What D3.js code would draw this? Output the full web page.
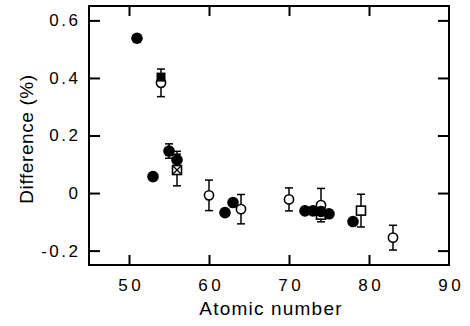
<!DOCTYPE html>
<html>
<head>
<meta charset="utf-8">
<script src="https://cdn.jsdelivr.net/npm/d3@7"></script>
<style>
  body { margin: 0; background: #fff; }
  text { font-family: "Liberation Sans", Arial, sans-serif; fill: #000; }
</style>
</head>
<body>
<div id="chart"></div>
<script>
var width = 470,
    height = 326,
    plotLeft = 89,
    plotRight = 449,
    plotTop = 6,
    plotBottom = 265;

// atomic number and difference (%) for each marker type
var filledZ = [51, 53, 55, 56, 62, 63, 72, 73, 74, 75, 78];
var filledDiff = [0.538, 0.057, 0.146, 0.115, -0.068, -0.033, -0.062, -0.062, -0.064, -0.072, -0.099];
var filledErr = [0, 0.01, 0.025, 0.03, 0, 0, 0, 0, 0.01, 0, 0];

var openCircleZ = [54, 60, 64, 70, 74, 83];
var openCircleDiff = [0.383, -0.008, -0.056, -0.022, -0.042, -0.155];
var openCircleErr = [0.048, 0.053, 0.051, 0.04, 0.058, 0.043];

var openSquareZ = [74, 79];
var openSquareDiff = [-0.075, -0.061];
var openSquareErr = [0.012, 0.057];

var filledSquareZ = [54];
var filledSquareDiff = [0.403];

var crossSquareZ = [56];
var crossSquareDiff = [0.08];
var crossSquareErr = [0.055];

var xTicks = [50, 60, 70, 80, 90];
var yTicks = [-0.2, 0, 0.2, 0.4, 0.6];
var yTickLabels = ["-0.2", "0", "0.2", "0.4", "0.6"];

var x = d3.scaleLinear().domain([45, 90]).range([plotLeft, plotRight]);
var y = d3.scaleLinear().domain([-0.25, 0.65]).range([plotBottom, plotTop]);

var svg = d3.select("#chart").append("svg")
  .attr("width", width)
  .attr("height", height);

function pts(zs, ds, es) {
  return zs.map(function(z, i) { return {z: z, d: ds[i], e: es ? es[i] : 0}; });
}

var filled = pts(filledZ, filledDiff, filledErr),
    openC = pts(openCircleZ, openCircleDiff, openCircleErr),
    openS = pts(openSquareZ, openSquareDiff, openSquareErr),
    filledS = pts(filledSquareZ, filledSquareDiff),
    crossS = pts(crossSquareZ, crossSquareDiff, crossSquareErr);

// axes, ticks pointing inward
var ls = 3.5;
svg.append("g")
  .attr("transform", "translate(0," + plotBottom + ")")
  .call(d3.axisBottom(x).tickValues(xTicks).tickSizeInner(-10).tickSizeOuter(0).tickPadding(14))
  .call(function(g) {
    g.select(".domain").remove();
    g.selectAll("line").attr("stroke-width", 2).filter(function(d) { return d === 90; }).remove();
    g.selectAll("text").attr("font-size", 17).attr("font-family", "Liberation Sans, Arial, sans-serif")
      .attr("letter-spacing", ls).attr("dx", ls / 2);
  });

svg.append("g")
  .attr("transform", "translate(0," + plotTop + ")")
  .call(d3.axisTop(x).tickValues([50, 60, 70, 80]).tickSizeInner(-10).tickSizeOuter(0).tickFormat(""))
  .call(function(g) {
    g.select(".domain").remove();
    g.selectAll("line").attr("stroke-width", 2);
  });

svg.append("g")
  .attr("transform", "translate(" + plotLeft + ",0)")
  .call(d3.axisLeft(y).tickValues(yTicks).tickSizeInner(-11).tickSizeOuter(0).tickPadding(11)
    .tickFormat(function(d, i) { return yTickLabels[i]; }))
  .call(function(g) {
    g.select(".domain").remove();
    g.selectAll("line").attr("stroke-width", 2);
    g.selectAll("text").attr("font-size", 17).attr("font-family", "Liberation Sans, Arial, sans-serif")
      .attr("letter-spacing", 2.5).attr("dx", 2.5);
  });

svg.append("g")
  .attr("transform", "translate(" + plotRight + ",0)")
  .call(d3.axisRight(y).tickValues(yTicks).tickSizeInner(-11).tickSizeOuter(0).tickFormat(""))
  .call(function(g) {
    g.select(".domain").remove();
    g.selectAll("line").attr("stroke-width", 2);
  });

// frame
svg.append("rect")
  .attr("x", plotLeft).attr("y", plotTop)
  .attr("width", plotRight - plotLeft).attr("height", plotBottom - plotTop)
  .attr("fill", "none").attr("stroke", "#000").attr("stroke-width", 2);

// axis titles
svg.append("text")
  .attr("x", (200 + 342) / 2)
  .attr("y", 315)
  .attr("text-anchor", "middle")
  .attr("font-size", 19)
  .attr("letter-spacing", 1.2)
  .text("Atomic number");

svg.append("text")
  .attr("transform", "translate(33,139) rotate(-90)")
  .attr("text-anchor", "middle")
  .attr("font-size", 19)
  .attr("letter-spacing", 0.6)
  .text("Difference (%)");

// error bars
var cap = 4;
var errs = svg.append("g").attr("stroke", "#000").attr("stroke-width", 1.5);
[].concat(filled, openC, openS, crossS).filter(function(p) { return p.e > 0; }).forEach(function(p) {
  var cx = x(p.z), y0 = y(p.d - p.e), y1 = y(p.d + p.e);
  errs.append("line").attr("x1", cx).attr("x2", cx).attr("y1", y0).attr("y2", y1);
  errs.append("line").attr("x1", cx - cap).attr("x2", cx + cap).attr("y1", y0).attr("y2", y0);
  errs.append("line").attr("x1", cx - cap).attr("x2", cx + cap).attr("y1", y1).attr("y2", y1);
});

var sq = 9;

svg.append("g").selectAll("rect")
  .data(openS)
  .join("rect")
  .attr("x", function(d) { return x(d.z) - sq / 2; })
  .attr("y", function(d) { return y(d.d) - sq / 2; })
  .attr("width", sq).attr("height", sq)
  .attr("fill", "#fff").attr("stroke", "#000").attr("stroke-width", 1.6);

var cs = svg.append("g").selectAll("g")
  .data(crossS)
  .join("g")
  .attr("transform", function(d) { return "translate(" + x(d.z) + "," + y(d.d) + ")"; });
cs.append("rect")
  .attr("x", -sq / 2).attr("y", -sq / 2).attr("width", sq).attr("height", sq)
  .attr("fill", "#fff").attr("stroke", "#000").attr("stroke-width", 1.6);
cs.append("path")
  .attr("d", "M" + (-sq / 2) + "," + (-sq / 2) + "L" + (sq / 2) + "," + (sq / 2) +
             "M" + (sq / 2) + "," + (-sq / 2) + "L" + (-sq / 2) + "," + (sq / 2))
  .attr("stroke", "#000").attr("stroke-width", 1.4);

svg.append("g").selectAll("circle")
  .data(openC)
  .join("circle")
  .attr("cx", function(d) { return x(d.z); })
  .attr("cy", function(d) { return y(d.d); })
  .attr("r", 4.6)
  .attr("fill", "#fff").attr("stroke", "#000").attr("stroke-width", 1.6);

svg.append("g").selectAll("rect")
  .data(filledS)
  .join("rect")
  .attr("x", function(d) { return x(d.z) - sq / 2; })
  .attr("y", function(d) { return y(d.d) - sq / 2; })
  .attr("width", sq).attr("height", sq)
  .attr("fill", "#000");

svg.append("g").selectAll("circle")
  .data(filled)
  .join("circle")
  .attr("cx", function(d) { return x(d.z); })
  .attr("cy", function(d) { return y(d.d); })
  .attr("r", 5.8)
  .attr("fill", "#000");
</script>
</body>
</html>
